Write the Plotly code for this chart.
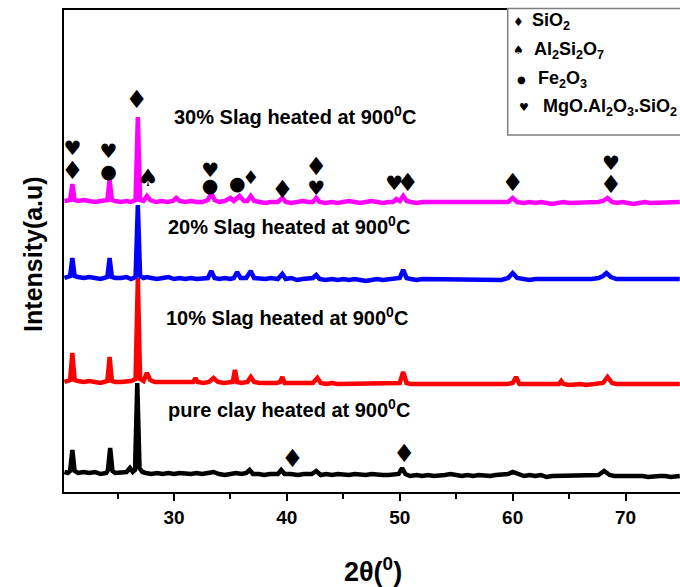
import plotly.graph_objects as go

# ---------------- data (2theta in degrees, intensity in arbitrary units) ----------------
PURE_CLAY = [
    (20.3, 20), (20.6, 19), (20.8, 21), (21.0, 42), (21.2, 21), (21.5, 19), (22.0, 20), (22.5, 19),
    (23.0, 20), (23.5, 18), (24.0, 19), (24.15, 22), (24.35, 44), (24.55, 21), (24.8, 19), (25.3, 19),
    (25.8, 20), (26.1, 24), (26.35, 20), (26.55, 22), (26.75, 109), (26.95, 24), (27.2, 20), (27.5, 19),
    (28.0, 18), (28.5, 19), (29.0, 18), (29.5, 19), (30.0, 18), (30.5, 19), (31.0, 18), (31.5, 18),
    (32.0, 19), (32.5, 18), (33.0, 19), (33.5, 20), (34.0, 18), (34.5, 17), (35.0, 18), (35.5, 19),
    (36.0, 18), (36.4, 19), (36.7, 22), (37.0, 18), (37.5, 18), (38.0, 17), (38.5, 18), (39.2, 18),
    (39.5, 22), (39.8, 18), (40.3, 18), (41.0, 17), (41.5, 18), (42.2, 18), (42.6, 21), (43.0, 17),
    (43.5, 18), (44.0, 17), (44.5, 18), (45.0, 17), (45.5, 17), (46.0, 18), (46.5, 17), (47.0, 17),
    (47.5, 18), (48.0, 17), (48.5, 17), (49.0, 17), (49.5, 17), (49.9, 18), (50.2, 24), (50.5, 18),
    (50.9, 16), (51.5, 17), (52.0, 16), (52.5, 17), (53.0, 16), (53.5, 16), (54.0, 17), (54.5, 18),
    (55.0, 17), (55.5, 16), (56.0, 17), (56.5, 16), (57.0, 17), (57.5, 16), (58.0, 16), (58.5, 17),
    (59.0, 17), (59.6, 18), (60.0, 20), (60.4, 18), (61.0, 16), (61.5, 17), (62.0, 16), (62.5, 17),
    (63.0, 15), (63.5, 16), (64.0, 16), (64.5, 17), (65.0, 16), (65.5, 16), (66.0, 16), (66.5, 17),
    (67.0, 16), (67.6, 17), (68.1, 21), (68.6, 17), (69.0, 16), (69.5, 16), (70.0, 16), (70.5, 17),
    (71.0, 16), (71.5, 16), (72.0, 15), (72.5, 16), (73.0, 16), (73.5, 16), (74.0, 15), (74.8, 16),
]

SLAG_10 = [
    (20.3, 110), (20.6, 111), (20.8, 112), (21.0, 139), (21.2, 112), (21.5, 111), (22.0, 110), (22.5, 111),
    (23.0, 110), (23.5, 109), (24.1, 111), (24.3, 135), (24.5, 111), (24.8, 110), (25.3, 110), (25.8, 111),
    (26.2, 111), (26.6, 113), (26.8, 214), (27.0, 113), (27.3, 111), (27.6, 119), (27.9, 112), (28.3, 110),
    (28.8, 110), (29.3, 109), (29.8, 110), (30.3, 110), (30.8, 109), (31.3, 110), (31.7, 110), (31.9, 114),
    (32.1, 110), (32.6, 109), (33.1, 110), (33.5, 114), (33.9, 110), (34.4, 109), (34.9, 109), (35.2, 110),
    (35.4, 122), (35.6, 110), (36.0, 109), (36.5, 110), (36.8, 115), (37.1, 110), (37.6, 109), (38.1, 109),
    (38.6, 108), (39.1, 109), (39.4, 110), (39.6, 115), (39.8, 109), (40.3, 109), (40.8, 108), (41.3, 109),
    (41.8, 108), (42.3, 109), (42.7, 114), (43.0, 109), (43.5, 108), (44.0, 109), (44.5, 108), (45.0, 108),
    (45.5, 109), (46.0, 108), (46.5, 109), (47.0, 108), (47.5, 108), (48.0, 109), (48.5, 108), (49.0, 108),
    (49.5, 109), (50.0, 109), (50.3, 120), (50.6, 109), (51.0, 108), (51.5, 108), (52.0, 107), (52.5, 108),
    (53.0, 108), (53.5, 107), (54.0, 108), (54.5, 108), (55.0, 107), (55.5, 108), (56.0, 108), (56.5, 107),
    (57.0, 108), (57.5, 107), (58.0, 108), (58.5, 108), (59.0, 107), (59.5, 108), (60.0, 109), (60.3, 115),
    (60.6, 108), (61.0, 108), (61.5, 107), (62.0, 108), (62.5, 108), (63.0, 107), (63.5, 108), (64.1, 108),
    (64.3, 111), (64.5, 108), (65.0, 107), (65.5, 108), (66.0, 108), (66.5, 107), (67.0, 108), (67.5, 108),
    (68.0, 109), (68.4, 115), (68.8, 109), (69.2, 108), (69.7, 108), (70.2, 107), (70.7, 108), (71.2, 108),
    (71.7, 107), (72.2, 108), (72.7, 108), (73.2, 107), (73.7, 108), (74.2, 108), (74.8, 108),
]

SLAG_20 = [
    (20.3, 214), (20.6, 215), (20.8, 216), (21.0, 234), (21.2, 216), (21.5, 215), (22.0, 214), (22.5, 215),
    (23.0, 214), (23.5, 213), (24.1, 215), (24.3, 234), (24.5, 215), (24.8, 214), (25.3, 214), (25.8, 215),
    (26.2, 213), (26.6, 215), (26.8, 287), (27.0, 216), (27.3, 214), (27.6, 215), (28.0, 214), (28.5, 213),
    (29.0, 214), (29.5, 215), (30.0, 213), (30.5, 214), (31.0, 213), (31.5, 214), (32.0, 213), (32.5, 214),
    (33.0, 214), (33.3, 221), (33.6, 214), (34.0, 213), (34.5, 214), (35.0, 213), (35.3, 214), (35.6, 220),
    (35.9, 214), (36.4, 214), (36.8, 221), (37.1, 214), (37.6, 213), (38.1, 213), (38.6, 214), (39.2, 213),
    (39.6, 218), (39.9, 213), (40.4, 214), (40.9, 212), (41.4, 213), (41.9, 213), (42.3, 214), (42.6, 217),
    (42.9, 213), (43.4, 212), (44.0, 213), (44.5, 212), (45.0, 213), (45.5, 212), (46.0, 213), (46.5, 212),
    (47.0, 211), (47.5, 212), (48.0, 213), (48.5, 212), (49.0, 213), (49.5, 214), (50.0, 214), (50.3, 222),
    (50.6, 214), (51.0, 213), (51.5, 212), (52.0, 213), (52.5, 213), (53.0, 212), (53.5, 213), (54.0, 213),
    (54.5, 212), (55.0, 213), (55.5, 213), (56.0, 212), (56.5, 213), (57.0, 213), (57.5, 212), (58.0, 213),
    (58.5, 213), (59.0, 212), (59.6, 214), (60.0, 219), (60.4, 214), (61.0, 213), (61.5, 212), (62.0, 213),
    (62.5, 213), (63.0, 212), (63.5, 213), (64.0, 213), (64.5, 212), (65.0, 213), (65.5, 213), (66.0, 212),
    (66.5, 213), (67.0, 213), (67.6, 214), (68.0, 216), (68.3, 219), (68.7, 215), (69.2, 213), (69.7, 213),
    (70.2, 212), (70.7, 213), (71.2, 213), (71.7, 212), (72.2, 213), (72.7, 212), (73.2, 213), (73.7, 213),
    (74.2, 212), (74.8, 213),
]

SLAG_30 = [
    (20.3, 291), (20.6, 292), (20.8, 292), (21.0, 308), (21.2, 292), (21.5, 291), (22.0, 292), (22.5, 291),
    (23.0, 290), (23.5, 291), (24.1, 292), (24.3, 312), (24.5, 292), (24.8, 291), (25.3, 290), (25.8, 291),
    (26.2, 290), (26.6, 292), (26.8, 375), (27.0, 292), (27.3, 291), (27.6, 296), (27.9, 292), (28.4, 290),
    (28.9, 291), (29.4, 290), (29.9, 291), (30.2, 294), (30.5, 291), (31.0, 290), (31.5, 291), (32.0, 290),
    (32.5, 290), (33.0, 292), (33.3, 299), (33.6, 292), (34.0, 290), (34.5, 291), (35.0, 294), (35.3, 291),
    (35.8, 296), (36.2, 291), (36.5, 291), (36.8, 296), (37.1, 291), (37.6, 290), (38.1, 289), (38.6, 290),
    (39.2, 290), (39.6, 294), (39.9, 290), (40.4, 289), (40.9, 290), (41.4, 291), (41.9, 290), (42.3, 290),
    (42.6, 294), (42.9, 290), (43.4, 289), (44.0, 290), (44.5, 289), (45.0, 290), (45.5, 291), (46.0, 290),
    (46.5, 289), (47.0, 290), (47.5, 291), (48.0, 290), (48.5, 289), (49.0, 290), (49.4, 290), (49.7, 293),
    (50.0, 291), (50.3, 296), (50.6, 291), (51.0, 290), (51.5, 289), (52.0, 290), (52.5, 290), (53.0, 289),
    (53.5, 290), (54.0, 290), (54.5, 289), (55.0, 290), (55.5, 290), (56.0, 289), (56.5, 290), (57.0, 290),
    (57.5, 289), (58.0, 289), (58.5, 290), (59.0, 289), (59.6, 290), (60.0, 294), (60.4, 290), (61.0, 289),
    (61.5, 290), (62.0, 289), (62.5, 290), (63.0, 289), (63.5, 288), (64.0, 289), (64.5, 290), (65.0, 289),
    (65.5, 289), (66.0, 290), (66.5, 289), (67.0, 290), (67.6, 290), (68.0, 291), (68.4, 294), (68.8, 290),
    (69.2, 289), (69.7, 290), (70.2, 289), (70.7, 288), (71.2, 289), (71.7, 290), (72.2, 289), (72.7, 289),
    (73.2, 290), (73.7, 289), (74.2, 289), (74.8, 290),
]

SERIES_NAMES = ["pure clay heated at 900", "10% Slag heated at 900",
                "20% Slag heated at 900", "30% Slag heated at 900"]
SERIES_DATA = [PURE_CLAY, SLAG_10, SLAG_20, SLAG_30]
SERIES_COLORS = ["#000000", "#FF0000", "#0000FF", "#FF00FF"]
# label anchor (2theta, intensity) for each curve label
LABEL_POS = [(29.3, 84), (29.1, 176), (29.3, 267), (29.8, 377)]

# phase identification marks (2theta, intensity)
SIO2_MARKS = [(21.0, 319), (26.7, 390), (39.6, 300), (42.6, 323),
              (50.7, 307), (60.0, 307), (68.7, 305), (40.5, 31), (50.4, 36)]
SIO2_MINOR_MARKS = [(36.8, 313)]
AL2SI2O7_MARKS = [(27.7, 312)]
FE2O3_MARKS = [(24.2, 319), (33.2, 305), (35.6, 307)]
MGO_MARKS = [(21.0, 342), (24.2, 339), (33.2, 320), (42.6, 302), (49.5, 307), (68.7, 327)]

PHASES = ["SiO<sub>2</sub>", "Al<sub>2</sub>Si<sub>2</sub>O<sub>7</sub>",
          "Fe<sub>2</sub>O<sub>3</sub>", "MgO.Al<sub>2</sub>O<sub>3</sub>.SiO<sub>2</sub>"]
PHASE_SYMBOLS = ["\u2666", "\u2660", "\u25CF", "\u2665"]

X_TICKS = [30, 40, 50, 60, 70]
X_RANGE = [20.26, 74.82]
Y_RANGE = [0, 482]

# ---------------- figure ----------------
FONT = "Liberation Sans, Arial, sans-serif"
SYMF = "DejaVu Sans"

fig = go.Figure()
for data, color in zip(SERIES_DATA, SERIES_COLORS):
    xs = [p[0] for p in data]
    ys = [p[1] for p in data]
    fig.add_trace(go.Scatter(x=xs, y=ys, mode="lines",
                             line=dict(color=color, width=4.5), showlegend=False,
                             hoverinfo="skip"))

mark_groups = [
    ("\u2666", SIO2_MARKS, 25),
    ("\u2666", SIO2_MINOR_MARKS, 19),
    ("\u2660", AL2SI2O7_MARKS, 24),
    ("\u25CF", FE2O3_MARKS, 19),
    ("\u2665", MGO_MARKS, 20),
]
for sym, marks, sz in mark_groups:
    fig.add_trace(go.Scatter(x=[m[0] for m in marks], y=[m[1] for m in marks],
                             mode="text", text=[sym] * len(marks),
                             textposition="middle center",
                             textfont=dict(family=SYMF, size=sz, color="black"),
                             showlegend=False, cliponaxis=False, hoverinfo="skip"))

annotations = []
for name, (lx, ly) in zip(SERIES_NAMES, LABEL_POS):
    annotations.append(dict(x=lx, y=ly, xref="x", yref="y", xanchor="left", yanchor="middle",
                            text=name + "<sup>0</sup>C", showarrow=False,
                            font=dict(family=FONT, size=20, color="black", weight="bold")))

# legend box (phases)
row_y = [0.9757, 0.917, 0.8548, 0.7967]
sym_x = [0.7386, 0.7386, 0.7435, 0.7467]
txt_x = [0.7565, 0.7590, 0.7670, 0.7750]
legend_sym_sizes = [12, 12, 10, 11]
for i, (ph, sym) in enumerate(zip(PHASES, PHASE_SYMBOLS)):
    annotations.append(dict(x=sym_x[i], y=row_y[i], xref="paper", yref="paper",
                            xanchor="center", yanchor="middle", text=sym, showarrow=False,
                            font=dict(family=SYMF, size=legend_sym_sizes[i], color="black")))
    annotations.append(dict(x=txt_x[i], y=row_y[i], xref="paper", yref="paper",
                            xanchor="left", yanchor="middle", text=ph, showarrow=False,
                            font=dict(family=FONT, size=18, color="black", weight="bold")))

# axis titles
annotations.append(dict(x=-0.0503, y=0.494, xref="paper", yref="paper", xanchor="center",
                        yanchor="middle", textangle=-90, text="Intensity(a.u)", showarrow=False,
                        font=dict(family=FONT, size=25, color="black", weight="bold")))
annotations.append(dict(x=0.5016, y=-0.162, xref="paper", yref="paper", xanchor="center",
                        yanchor="middle", text="2\u03b8(<sup>0</sup>)", showarrow=False,
                        font=dict(family=FONT, size=27, color="black", weight="bold")))

shapes = [dict(type="rect", xref="paper", yref="paper", x0=0.7203, x1=1.02, y0=0.7407, y1=1.003,
               line=dict(color="#7f7f7f", width=1.5), fillcolor="white", layer="above")]

fig.update_layout(
    width=680, height=587,
    margin=dict(l=64, r=0, t=10, b=95),
    plot_bgcolor="white", paper_bgcolor="white",
    showlegend=False,
    annotations=annotations,
    shapes=shapes,
    xaxis=dict(range=X_RANGE, showgrid=False, zeroline=False,
               showline=True, linecolor="black", linewidth=2, mirror=True,
               ticks="outside", ticklen=7, tickwidth=1.5, tickcolor="black",
               tickvals=X_TICKS, ticktext=[str(t) for t in X_TICKS],
               tickfont=dict(family=FONT, size=19, color="black", weight="bold"),
               minor=dict(ticks="outside", ticklen=5, tickwidth=1.5, tickcolor="black",
                          tickvals=[25, 35, 45, 55, 65, 75])),
    yaxis=dict(range=Y_RANGE, showgrid=False, zeroline=False, showticklabels=False,
               showline=True, linecolor="black", linewidth=2, ticks=""),
)

fig.write_html("out.html")
